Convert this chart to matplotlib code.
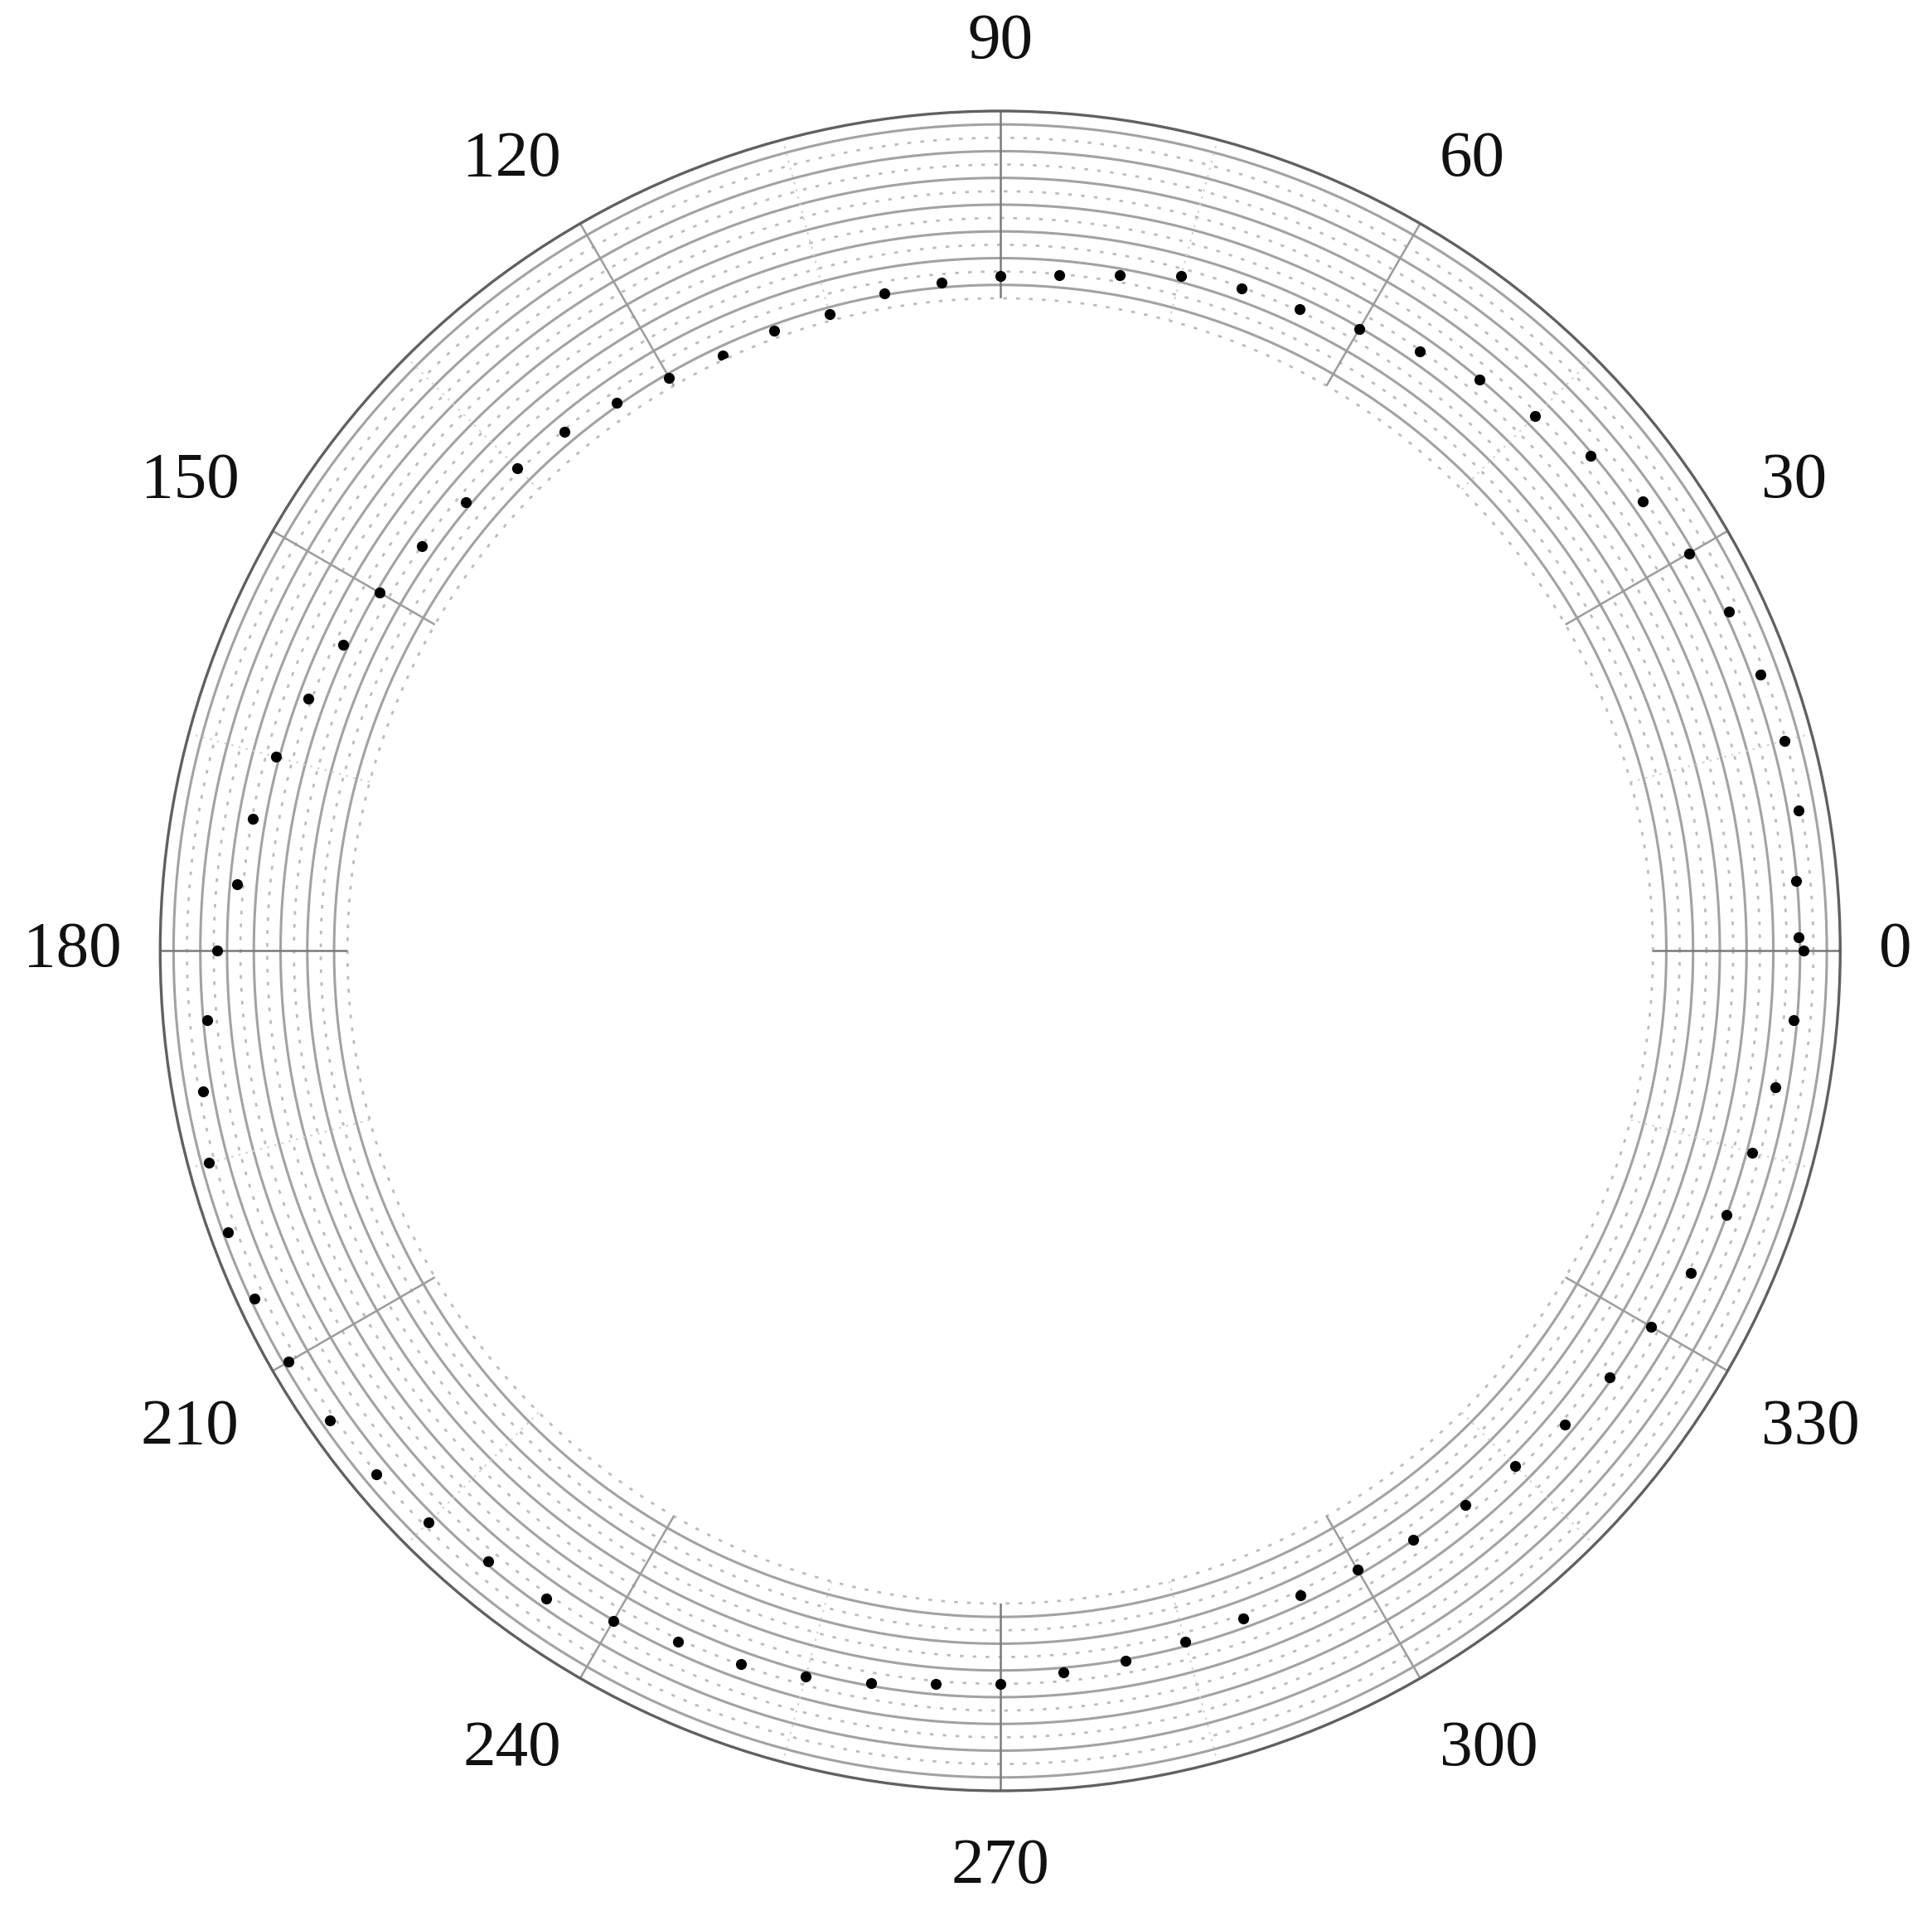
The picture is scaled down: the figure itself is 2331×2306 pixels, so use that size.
import numpy as np
import matplotlib
matplotlib.use("Agg")
import matplotlib.pyplot as plt

# ---------------- data ----------------
angles_deg = [0, 1, 5, 10, 15, 20, 25, 30, 35, 40, 45, 50, 55, 60, 65, 70, 75, 80, 85,
              90, 95, 100, 105, 110, 115, 120, 125, 130, 135, 140, 145, 150, 155, 160,
              165, 170, 175, 180, 185, 190, 195, 200, 205, 210, 215, 220, 225, 230, 235,
              240, 245, 250, 255, 260, 265, 270, 275, 280, 285, 290, 295, 300, 305, 310,
              315, 320, 325, 330, 335, 340, 345, 350, 355]
values = [11.27, 10.87, 10.94, 11.81, 11.88, 11.70, 11.28, 10.66, 9.84, 8.80, 7.75, 6.94,
          5.92, 4.92, 4.16, 3.90, 3.44, 2.53, 1.95,
          1.65, 1.36, 1.12, 0.51, 0.53, 0.30, 0.71, 1.21, 1.84, 2.24, 3.38, 3.98, 4.74,
          5.42, 6.27, 7.23, 7.95, 8.46,
          9.73, 10.72, 11.69, 12.42, 12.67, 12.73, 12.66, 12.41, 12.12, 11.61, 10.79,
          10.35, 9.03, 8.20, 7.93, 7.37, 6.80, 6.24,
          6.03, 5.35, 5.10, 4.64, 4.29, 4.37, 4.64, 4.98, 5.26, 5.66, 6.34, 6.80, 7.41,
          8.17, 8.95, 9.41, 10.07, 10.74]

r_limits = [0, 14]
major_rings = [1, 3, 5, 7, 9, 11, 13]
minor_rings = [0, 2, 4, 6, 8, 10, 12]
major_spokes = list(range(0, 360, 30))
minor_spokes = list(range(15, 360, 30))
label_angles = list(range(0, 360, 30))
label_texts = [str(a) for a in label_angles]

# ---------------- figure ----------------
fig = plt.figure(figsize=(23.31, 23.06), dpi=100)
ax = fig.add_axes([0.0829, 0.0629, 0.8696, 0.8790], projection="polar")
ax.set_ylim(*r_limits)
ax.set_rorigin(-48.8)
ax.set_xticks([])
ax.set_yticks([])
ax.grid(False)
ax.patch.set_edgecolor("none")
ax.patch.set_linewidth(0)

dense = np.linspace(0, 2 * np.pi, 2881)
for r in major_rings:
    ax.plot(dense, np.full_like(dense, r), color="#a2a2a2", lw=2.2, zorder=1)
for r in minor_rings:
    ax.plot(dense, np.full_like(dense, r), color="#bcbcbc", lw=2.0,
            linestyle=(0, (1.6, 4.0)), zorder=1, clip_on=False)

for a in minor_spokes:
    t = np.deg2rad(a)
    ax.plot([t, t], r_limits, color="#d2d2d2", lw=1.5, linestyle=(0, (1.3, 3)), zorder=1)
for a in major_spokes:
    t = np.deg2rad(a)
    col = "#7a7a7a" if a % 90 == 0 else "#9c9c9c"
    ax.plot([t, t], r_limits, color=col, lw=1.8, zorder=2)

ax.spines["polar"].set_color("#606060")
ax.spines["polar"].set_linewidth(2.4)
ax.spines["inner"].set_edgecolor("none")
ax.spines["inner"].set_linewidth(0)

# data points
ax.plot(np.deg2rad(angles_deg), values, "o", color="black", ms=9.5,
        markeredgewidth=0, zorder=5)

# angle labels
for a, txt in zip(label_angles, label_texts):
    t = np.deg2rad(a)
    c, s = np.cos(t), np.sin(t)
    ha = "left" if c > 0.1 else ("right" if c < -0.1 else "center")
    va = "bottom" if s > 0.1 else ("top" if s < -0.1 else "center")
    dy = -0.005 if s < -0.1 else 0.0
    ax.text(0.5 + 0.523 * c, 0.5 + 0.523 * s + dy, txt, transform=ax.transAxes,
            ha=ha, va=va, fontsize=57, family=["Liberation Serif", "DejaVu Serif"],
            color="#111111")

fig.savefig("out.png", dpi=100, facecolor="white")
